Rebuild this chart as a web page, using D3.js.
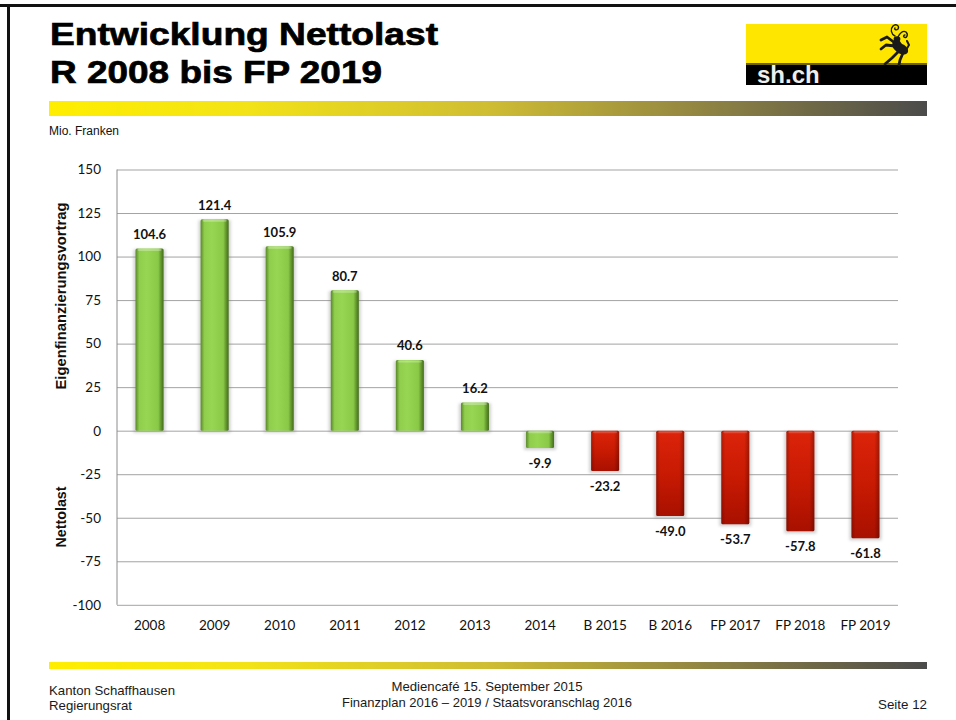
<!DOCTYPE html>
<html lang="de">
<head>
<meta charset="utf-8">
<title>Entwicklung Nettolast R 2008 bis FP 2019</title>
<script src="https://cdn.jsdelivr.net/npm/d3@7"></script>
<style>
  html, body { margin: 0; padding: 0; background: #fff; }
  svg { display: block; }
</style>
</head>
<body>
<div id="chart"></div>
<script>
// Nettolast / Eigenfinanzierungsvortrag in Mio. Franken
const categories = ["2008", "2009", "2010", "2011", "2012", "2013", "2014",
                    "B 2015", "B 2016", "FP 2017", "FP 2018", "FP 2019"];
const values = [104.6, 121.4, 105.9, 80.7, 40.6, 16.2, -9.9,
                -23.2, -49.0, -53.7, -57.8, -61.8];
// R = Rechnung, B = Budget, FP = Finanzplan
const kinds = ["R", "R", "R", "R", "R", "R", "R", "B", "B", "FP", "FP", "FP"];
const yTicks = [150, 125, 100, 75, 50, 25, 0, -25, -50, -75, -100];

const W = 956, H = 720;
const svg = d3.select("#chart").append("svg")
  .attr("width", W).attr("height", H)
  .attr("viewBox", `0 0 ${W} ${H}`);

const defs = svg.append("defs");

// yellow-to-grey band used in header and footer
const band = defs.append("linearGradient").attr("id", "band")
  .attr("x1", "0%").attr("x2", "100%").attr("y1", "0%").attr("y2", "0%");
[["0%", "#ffee00"], ["22%", "#f3e316"], ["50%", "#cfbd33"],
 ["75%", "#8f8343"], ["100%", "#4b4b4b"]]
  .forEach(([o, c]) => band.append("stop").attr("offset", o).attr("stop-color", c));

// green bar body
const gGreen = defs.append("linearGradient").attr("id", "barGreen")
  .attr("x1", "0%").attr("x2", "100%");
[["0%", "#74b236"], ["12%", "#8fcd4c"], ["40%", "#97d652"],
 ["80%", "#89c947"], ["100%", "#5f9828"]]
  .forEach(([o, c]) => gGreen.append("stop").attr("offset", o).attr("stop-color", c));

// red bar body
const gRed = defs.append("linearGradient").attr("id", "barRed")
  .attr("x1", "0%").attr("x2", "0%").attr("y1", "0%").attr("y2", "100%");
[["0%", "#dc240a"], ["50%", "#c81a03"], ["100%", "#a81000"]]
  .forEach(([o, c]) => gRed.append("stop").attr("offset", o).attr("stop-color", c));

// darker side edges laid over each bar
const gEdge = defs.append("linearGradient").attr("id", "barEdge")
  .attr("x1", "0%").attr("x2", "100%");
[["0%", "#000", 0.22], ["14%", "#000", 0], ["82%", "#000", 0], ["100%", "#000", 0.28]]
  .forEach(([o, c, a]) => gEdge.append("stop").attr("offset", o)
    .attr("stop-color", c).attr("stop-opacity", a));

// soft shadow under bars
defs.append("filter").attr("id", "soft")
  .attr("x", "-50%").attr("y", "-50%").attr("width", "200%").attr("height", "200%")
  .append("feGaussianBlur").attr("stdDeviation", 1.6);

// ---------- slide frame ----------
svg.append("rect").attr("x", 0).attr("y", 4).attr("width", W).attr("height", 3).attr("fill", "#111");
svg.append("rect").attr("x", 7).attr("y", 4).attr("width", 3).attr("height", H - 4).attr("fill", "#111");

// ---------- title ----------
const title = svg.append("g")
  .attr("font-family", "'Liberation Sans', Arial, sans-serif")
  .attr("font-weight", "bold").attr("font-size", 32).attr("fill", "#000")
  .attr("stroke", "#000").attr("stroke-width", 0.7);
title.append("text").attr("x", 50).attr("y", 45)
  .attr("textLength", 388).attr("lengthAdjust", "spacingAndGlyphs")
  .text("Entwicklung Nettolast");
title.append("text").attr("x", 50).attr("y", 83)
  .attr("textLength", 332).attr("lengthAdjust", "spacingAndGlyphs")
  .text("R 2008 bis FP 2019");

// header band
svg.append("rect").attr("x", 49).attr("y", 101).attr("width", 878).attr("height", 15)
  .attr("fill", "url(#band)");

// ---------- logo ----------
const logo = svg.append("g");
logo.append("rect").attr("x", 746).attr("y", 24).attr("width", 181).attr("height", 40).attr("fill", "#ffe600");
logo.append("rect").attr("x", 746).attr("y", 63).attr("width", 181).attr("height", 2).attr("fill", "#6d6200");
logo.append("rect").attr("x", 746).attr("y", 65).attr("width", 181).attr("height", 20).attr("fill", "#000");
logo.append("text").attr("x", 757).attr("y", 83)
  .attr("font-family", "'Liberation Sans', Arial, sans-serif")
  .attr("font-weight", "bold").attr("font-size", 24).attr("fill", "#eeeeee")
  .text("sh.ch");

// Schaffhauser Bock
const ram = logo.append("g").attr("transform", "translate(876,22)")
  .attr("stroke", "#1a1a1a").attr("fill", "none").attr("stroke-linecap", "round").attr("stroke-linejoin", "round");
ram.append("path").attr("stroke-width", 1.4)
  .attr("d", "M19,14 C15,12 14,7 17,4 C20,1 24,4 22,7 C20,9 18,7 19,6");
ram.append("path").attr("stroke-width", 1.4)
  .attr("d", "M22,15 C24,11 27,8 30,10 C33,13 30,17 28,15 C27,14 28,13 29,13");
ram.append("ellipse").attr("cx", 21).attr("cy", 17).attr("rx", 3.4).attr("ry", 2.8)
  .attr("fill", "#1a1a1a").attr("stroke", "none");
ram.append("path").attr("fill", "#1a1a1a").attr("stroke", "none")
  .attr("d", "M18,18 C15,22 16,26 20,29 C23,33 30,34 32,30 C33,26 29,23 26,22 C24,20 24,18 22,17 Z");
ram.append("path").attr("stroke-width", 2.8).attr("d", "M19,21 L11,15 L5,18");
ram.append("path").attr("stroke-width", 2.8).attr("d", "M19,24 L10,23 L5,27");
ram.append("path").attr("stroke-width", 2.8).attr("d", "M22,30 L16,36 L9,42");
ram.append("path").attr("stroke-width", 2.8).attr("d", "M27,31 L24,38 L23,43");
ram.append("path").attr("stroke-width", 2).attr("d", "M30,28 L33,23 L31,19");

// unit label
svg.append("text").attr("x", 49).attr("y", 135)
  .attr("font-family", "'Liberation Sans', Arial, sans-serif")
  .attr("font-size", 12).attr("fill", "#111").text("Mio. Franken");

// ---------- chart ----------
const plot = { left: 117, right: 898, top: 169.5, bottom: 604.8 };

const x = d3.scaleBand().domain(categories)
  .range([plot.left, plot.right]).paddingInner(0.57).paddingOuter(0.285);
const y = d3.scaleLinear().domain([-100, 150]).range([plot.bottom, plot.top]);

const numFont = "Lato, 'Open Sans', sans-serif";

// gridlines and y tick labels
const yAxis = svg.append("g").attr("transform", `translate(${plot.left},0)`)
  .call(d3.axisLeft(y).tickValues(yTicks)
    .tickSize(-(plot.right - plot.left)).tickPadding(16)
    .tickFormat(d => String(d)));
yAxis.select(".domain").remove();
yAxis.selectAll(".tick line").attr("stroke", "#a3a3a3").attr("stroke-width", 1);
yAxis.selectAll(".tick text").attr("font-family", numFont)
  .attr("font-size", 13.5).attr("fill", "#111");

// vertical axis line
svg.append("line").attr("x1", plot.left).attr("x2", plot.left)
  .attr("y1", plot.top).attr("y2", plot.bottom).attr("stroke", "#8c8c8c");

// category labels
const xAxis = svg.append("g").attr("transform", `translate(0,${plot.bottom})`)
  .call(d3.axisBottom(x).tickSize(0).tickPadding(16));
xAxis.select(".domain").remove();
xAxis.selectAll(".tick text").attr("font-family", numFont)
  .attr("font-size", 13.5).attr("fill", "#111");

// bars
const rows = categories.map((c, i) => ({ c, v: values[i], k: kinds[i] }));
const bars = svg.append("g").selectAll("g").data(rows).join("g");

const barTop = d => y(Math.max(0, d.v));
const barH = d => Math.abs(y(d.v) - y(0));

bars.append("rect").attr("class", "shadow")
  .attr("x", d => x(d.c) - 2).attr("width", x.bandwidth() + 4)
  .attr("y", d => barTop(d) + 1).attr("height", d => barH(d) + 1)
  .attr("fill", "#7a7a7a").attr("opacity", 0.35).attr("filter", "url(#soft)");

bars.append("rect").attr("class", "bar")
  .attr("x", d => x(d.c)).attr("width", x.bandwidth())
  .attr("y", barTop).attr("height", barH)
  .attr("rx", 1.5)
  .attr("fill", d => d.k === "R" ? "url(#barGreen)" : "url(#barRed)");

bars.append("rect")
  .attr("x", d => x(d.c)).attr("width", x.bandwidth())
  .attr("y", barTop).attr("height", barH)
  .attr("rx", 1.5).attr("fill", "url(#barEdge)");

// light bevel along the top edge of each bar
bars.append("rect")
  .attr("x", d => x(d.c) + 2).attr("width", x.bandwidth() - 4)
  .attr("y", d => barTop(d) + 0.5).attr("height", 2)
  .attr("rx", 1)
  .attr("fill", "#fff").attr("opacity", d => d.k === "R" ? 0.3 : 0.18);

// value labels
const fmt = v => (v < 0 ? "-" : "") + Math.abs(v).toFixed(1);
bars.append("text")
  .attr("x", d => x(d.c) + x.bandwidth() / 2)
  .attr("y", d => d.v >= 0 ? y(d.v) - 9.5 : y(d.v) + 20)
  .attr("text-anchor", "middle")
  .attr("font-family", numFont).attr("font-weight", "bold")
  .attr("font-size", 13).attr("fill", "#111")
  .text(d => fmt(d.v));

// axis titles
const axisTitle = svg.append("g")
  .attr("font-family", "'Liberation Sans', Arial, sans-serif")
  .attr("font-weight", "bold").attr("font-size", 14).attr("fill", "#111")
  .attr("text-anchor", "middle");
axisTitle.append("text").attr("transform", "translate(66,296) rotate(-90)")
  .attr("textLength", 187).attr("lengthAdjust", "spacingAndGlyphs")
  .text("Eigenfinanzierungsvortrag");
axisTitle.append("text").attr("transform", "translate(66,517) rotate(-90)")
  .attr("textLength", 61).attr("lengthAdjust", "spacingAndGlyphs")
  .text("Nettolast");

// ---------- footer ----------
svg.append("rect").attr("x", 49).attr("y", 662).attr("width", 878).attr("height", 7)
  .attr("fill", "url(#band)");

const foot = svg.append("g")
  .attr("font-family", "'Liberation Sans', Arial, sans-serif")
  .attr("font-size", 13).attr("fill", "#1a1a1a");
foot.append("text").attr("x", 49).attr("y", 695)
  .attr("textLength", 126).attr("lengthAdjust", "spacingAndGlyphs")
  .text("Kanton Schaffhausen");
foot.append("text").attr("x", 49).attr("y", 710)
  .attr("textLength", 83).attr("lengthAdjust", "spacingAndGlyphs")
  .text("Regierungsrat");
foot.append("text").attr("x", 487).attr("y", 691).attr("text-anchor", "middle")
  .attr("textLength", 191).attr("lengthAdjust", "spacingAndGlyphs")
  .text("Mediencafé 15. September 2015");
foot.append("text").attr("x", 487).attr("y", 707).attr("text-anchor", "middle")
  .attr("textLength", 290).attr("lengthAdjust", "spacingAndGlyphs")
  .text("Finanzplan 2016 – 2019 / Staatsvoranschlag 2016");
foot.append("text").attr("x", 927).attr("y", 709).attr("text-anchor", "end")
  .attr("textLength", 49).attr("lengthAdjust", "spacingAndGlyphs")
  .text("Seite 12");
</script>
</body>
</html>
